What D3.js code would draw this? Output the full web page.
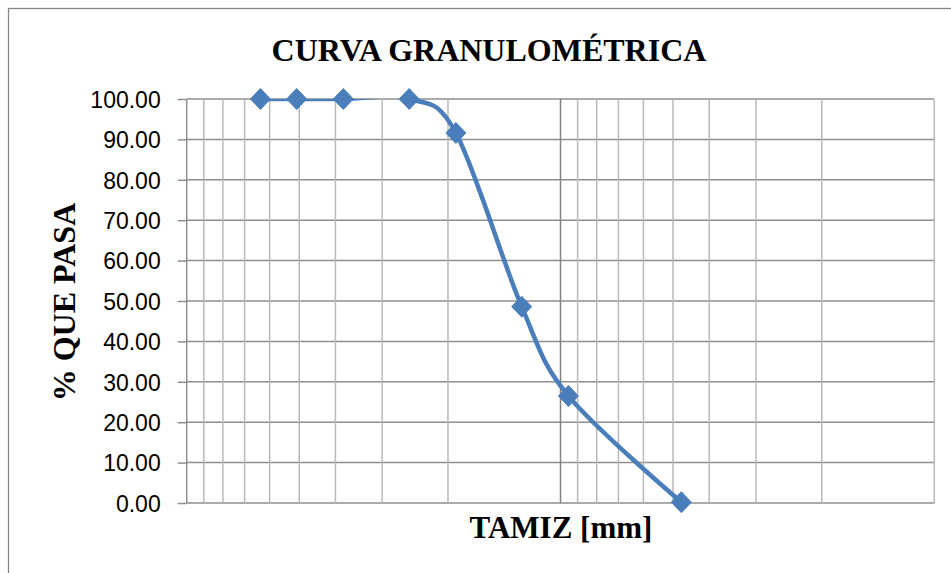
<!DOCTYPE html>
<head>
  <meta charset="utf-8">
  <title>Curva granulometrica</title>
  <style>
    body { margin: 0; background: #fff; }
    svg { display: block; }
    .tick-label { font-family: "Liberation Sans", Arial, sans-serif; font-size: 23px; fill: #000; }
    .title { font-family: "Liberation Serif", "Times New Roman", serif; font-weight: bold; fill: #000; }
  </style>
</head>

<body>
  <div id="chart"></div>

  <script src="https://cdn.jsdelivr.net/npm/d3@7"></script>
  <script type="text/javascript">

    // sieve openings (mm) and % passing
    let tamiz = [63.5, 50.8, 38.1, 25.4, 19.05, 12.7, 9.525, 4.75];
    let pasa = [100, 100, 100, 100, 91.6, 48.6, 26.5, 0.2];

    let yTicks = [0, 10, 20, 30, 40, 50, 60, 70, 80, 90, 100];
    let xGrid = [1, 2, 3, 4, 5, 6, 7, 8, 9, 10, 20, 30, 40, 50, 60, 70, 80, 90, 100];

    let width = 951, height = 573;
    let plotLeft = 186.7, plotRight = 934.3, plotTop = 99, plotBottom = 503;

    let svg = d3.select("#chart").append("svg")
       .attr("width", width)
       .attr("height", height);

    // outer chart border (runs off the picture on the right and bottom)
    svg.append("rect")
      .attr("x", 8.5).attr("y", 8.5)
      .attr("width", 1000).attr("height", 700)
      .attr("fill", "#fff")
      .attr("stroke", "#868686")
      .attr("stroke-width", 1.3);

    // reversed log scale: big sieves on the left
    let x = d3.scaleLog().domain([100, 1]).range([plotLeft, plotRight]);
    let y = d3.scaleLinear().domain([0, 100]).range([plotBottom, plotTop]);

    // horizontal grid
    svg.append("g")
      .selectAll("line")
      .data(yTicks)
      .join("line")
        .attr("x1", plotLeft).attr("x2", plotRight)
        .attr("y1", d => y(d)).attr("y2", d => y(d))
        .attr("stroke", "#8e8e8e")
        .attr("stroke-width", 1.5);

    // vertical grid
    svg.append("g")
      .selectAll("line")
      .data(xGrid)
      .join("line")
        .attr("x1", d => x(d)).attr("x2", d => x(d))
        .attr("y1", plotTop).attr("y2", plotBottom)
        .attr("stroke", d => d == 10 ? "#7f7f7f" : (d == 100 ? "#8e8e8e" : "#b9b9b9"))
        .attr("stroke-width", 1.5);

    // y axis tick marks + labels
    let yAxis = svg.append("g").attr("transform", "translate(" + plotLeft + ",0)")
      .call(d3.axisLeft(y).tickValues(yTicks).tickSize(9).tickFormat(d3.format(".2f")));
    yAxis.select(".domain").remove();
    yAxis.selectAll(".tick line").attr("stroke", "#8e8e8e").attr("stroke-width", 1.5);
    yAxis.attr("font-size", null).attr("font-family", null);
    yAxis.selectAll(".tick text")
      .attr("class", "tick-label")
      .attr("x", -26)
      .attr("dy", "0.36em");

    // curve, clipped to the plot area like the spreadsheet does
    svg.append("clipPath").attr("id", "plot-clip")
      .append("rect")
        .attr("x", plotLeft).attr("y", plotTop)
        .attr("width", plotRight - plotLeft).attr("height", plotBottom - plotTop);

    let pts = tamiz.map((t, i) => [x(t), y(pasa[i])]);

    let line = d3.line().curve(d3.curveCardinal.tension(0));

    svg.append("path")
      .attr("d", line(pts))
      .attr("clip-path", "url(#plot-clip)")
      .attr("fill", "none")
      .attr("stroke", "#4A7EBB")
      .attr("stroke-width", 4.5)
      .attr("stroke-linejoin", "round");

    // diamond markers
    svg.append("g")
      .selectAll("path")
      .data(pts)
      .join("path")
        .attr("transform", d => "translate(" + d[0] + "," + d[1] + ")")
        .attr("d", "M0,-10.5L10,0L0,10.5L-10,0Z")
        .attr("fill", "#4A7EBB")
        .attr("stroke", "#4A7EBB")
        .attr("stroke-width", 1);

    // titles
    svg.append("text")
      .attr("class", "title")
      .attr("x", 489).attr("y", 61)
      .attr("text-anchor", "middle")
      .attr("font-size", 32)
      .text("CURVA GRANULOMÉTRICA");

    svg.append("text")
      .attr("class", "title")
      .attr("x", 561).attr("y", 538)
      .attr("text-anchor", "middle")
      .attr("font-size", 31)
      .text("TAMIZ [mm]");

    svg.append("text")
      .attr("class", "title")
      .attr("transform", "translate(75,302) rotate(-90)")
      .attr("text-anchor", "middle")
      .attr("font-size", 32)
      .text("% QUE PASA");

  </script>

</body>
